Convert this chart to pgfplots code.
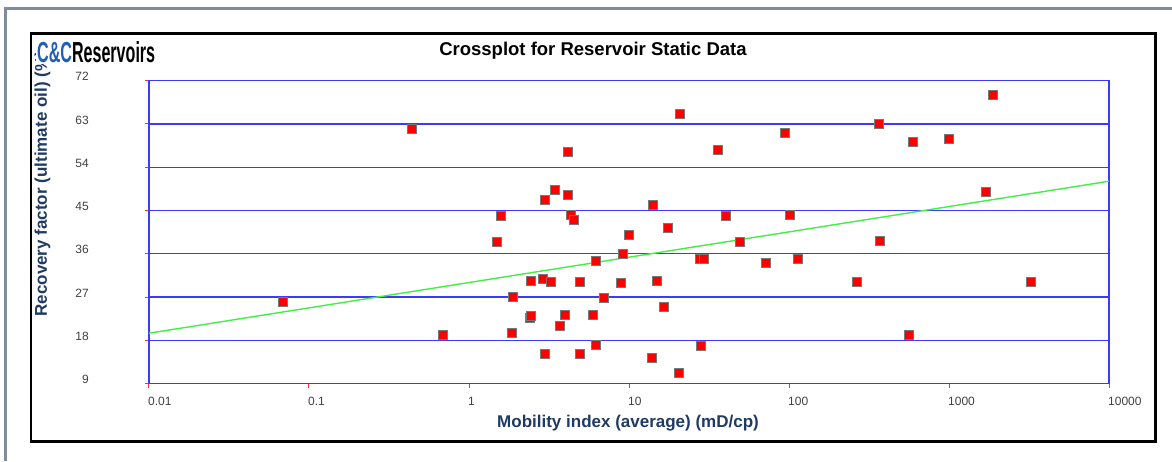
\documentclass[border=0pt]{standalone}
\usepackage{pgfplots}
\pgfplotsset{compat=1.18}
\usepackage{fontspec}
\setmainfont{Liberation Sans}
\usepackage{graphicx}

\definecolor{gridblue}{HTML}{3A3AFF}
\definecolor{fitgreen}{HTML}{44EE44}
\definecolor{tickred}{HTML}{FF3030}
\definecolor{labnavy}{HTML}{1F3A64}
\definecolor{ticktxt}{HTML}{404040}
\definecolor{logoblue}{HTML}{2060B0}
\definecolor{framegray}{HTML}{7F8C9C}
\definecolor{markgray}{HTML}{787878}

\pgfplotstableread{
x y
0.0684 26.0
0.438 62.0
0.689 19.2
1.486 38.5
1.58 43.9
1.89 27.0
1.86 19.5
2.40 22.7
2.44 23.1
2.42 30.4
2.90 30.7
2.97 47.2
2.97 15.1
3.23 30.2
3.45 49.2
3.69 21.1
3.96 23.3
4.16 57.2
4.16 48.2
4.31 44.1
4.52 43.0
4.92 30.2
4.92 15.1
5.93 23.3
6.22 34.6
6.22 17.1
6.98 26.8
8.87 29.9
9.14 36.0
10.0 39.9
13.9 14.4
14.2 46.2
14.9 30.4
16.5 25.0
17.5 41.4
20.5 11.2
20.8 65.2
27.7 35.0
29.3 35.0
28.2 16.8
36.1 57.7
40.2 43.9
49.1 38.5
72.1 34.1
94.2 61.1
101 44.0
114 35.0
264 30.2
363 63.0
370 38.7
561 19.2
592 59.3
998 59.9
1706 48.9
1888 69.1
3228 30.2
}\wells

\begin{document}
\begin{tikzpicture}
\useasboundingbox (0pt,0pt) rectangle (1172pt,461pt);
% outer window frame and chart border
\draw[framegray, line width=3pt] (5.5pt,0pt) -- (5.5pt,452.5pt) -- (1172pt,452.5pt);
\draw[black, line width=2.5pt] (31pt,427.5pt) rectangle (1155.5pt,19.5pt);

\begin{axis}[
    at={(149pt,77.3pt)}, anchor=south west,
    scale only axis, width=960pt, height=303pt,
    xmode=log, xmin=0.01, xmax=10000,
    ymin=9, ymax=72,
    xtick={0.01,0.1,1,10,100,1000,10000},
    xticklabels={0.01,0.1,1,10,100,1000,10000},
    ytick={9,18,27,36,45,54,63,72},
    yticklabels={9,18,27,36,45,54,63,72},
    xminorticks=false,
    xtick pos=bottom, ytick pos=left,
    ymajorgrids=true,
    grid style={gridblue, line width=1.3pt},
    axis line style={gridblue, line width=1.3pt},
    tick align=outside, major tick length=4pt,
    tick style={tickred, line width=1pt},
    xticklabel style={anchor=north west, inner sep=0pt, xshift=-1pt, yshift=-9pt,
        font=\fontsize{12}{14}\selectfont, text=ticktxt},
    yticklabel style={anchor=east, inner sep=0pt, xshift=-56pt, yshift=4pt,
        font=\fontsize{12}{14}\selectfont, text=ticktxt},
    title={Crossplot for Reservoir Static Data},
    title style={at={(axis description cs:0.4625,1.078)}, anchor=center,
        font=\bfseries\fontsize{18.5}{22}\selectfont},
    xlabel={Mobility index (average) (mD/cp)},
    xlabel style={at={(axis description cs:0.499,-0.1297)}, anchor=center,
        font=\bfseries\fontsize{17}{20}\selectfont, text=labnavy},
    ylabel={Recovery factor (ultimate oil) (\%)},
    ylabel style={at={(axis description cs:-0.111,0.210)}, anchor=west, rotate=0,
        font=\bfseries\fontsize{17}{20}\selectfont, text=labnavy},
    clip=false,
]
\addplot[fitgreen, line width=1.4pt] coordinates {(0.01,19.5) (10000,51.1)};
\addplot[only marks, mark=square*, mark size=4.5pt,
    mark options={fill=red, draw=markgray, line width=0.8pt}] table {\wells};
\end{axis}

% logo
\node[anchor=south west, fill=white, inner sep=1pt] at (36pt,397pt)
    {\resizebox{118pt}{21pt}{\bfseries\textcolor{logoblue}{C\&C}Reservoirs}};
\end{tikzpicture}
\end{document}
